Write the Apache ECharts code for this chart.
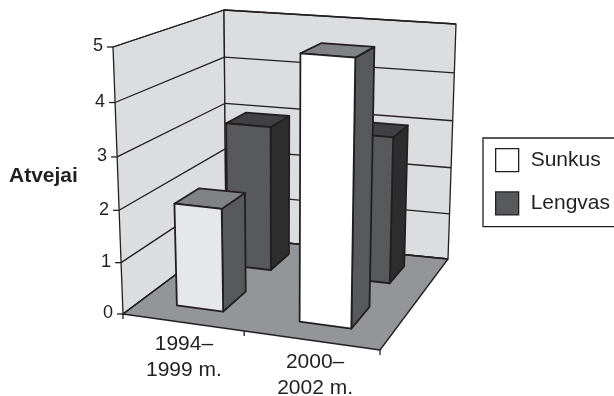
<!DOCTYPE html>
<html>
<head>
<meta charset="utf-8">
<style>html,body{margin:0;padding:0;background:#fff}#chart{width:614px;height:396px}</style>
<script src="https://cdn.jsdelivr.net/npm/echarts@6/dist/echarts.min.js"></script>
</head>
<body>
<div id="chart"></div>
<script>
// Chart values
const categories = ['1994–\n1999 m.', '2000–\n2002 m.'];
const sunkusValues = [2, 5];
const lengvasValues = [3, 3];
const valueTicks = [0, 1, 2, 3, 4, 5];

// Scene corners on screen: front-left, front-right, back-right, back-left
const floorCorners = [[123, 314], [380, 350], [448, 259], [226, 237]];
const ceilingCorners = [[113, 47], [386, 69], [456, 24], [224, 10]];
const heightBias = 1.05;   // foreshortening of the vertical scale
const barWidth = 0.39;     // share of a category band
const depthBands = { Sunkus: [0.15, 0.375], Lengvas: [0.645, 0.86] };
const acrossShift = { Sunkus: 0.005, Lengvas: 0.007 };

const INK = '#231f20';
const faces = {
  Sunkus: { front: ['#e6e7e8', '#ffffff'], side: '#58595b', top: '#808285' },
  Lengvas: { front: ['#58595b', '#58595b'], side: '#2d2d2e', top: '#414042' }
};
const FAMILY = '"Liberation Sans", Arial, sans-serif';

function squareToQuad(q) {
  const [[x0, y0], [x1, y1], [x2, y2], [x3, y3]] = q;
  const dx1 = x1 - x2, dx2 = x3 - x2, sx = x0 - x1 + x2 - x3;
  const dy1 = y1 - y2, dy2 = y3 - y2, sy = y0 - y1 + y2 - y3;
  const det = dx1 * dy2 - dx2 * dy1;
  const g = (sx * dy2 - dx2 * sy) / det, h = (dx1 * sy - sx * dy1) / det;
  const a = x1 - x0 + g * x1, b = x3 - x0 + h * x3;
  const d = y1 - y0 + g * y1, e = y3 - y0 + h * y3;
  return (u, v) => {
    const n = g * u + h * v + 1;
    return [(a * u + b * v + x0) / n, (d * u + e * v + y0) / n];
  };
}
const floorMap = squareToQuad(floorCorners);
const ceilingMap = squareToQuad(ceilingCorners);

// u: across the floor, v: into the depth, w: height share of the value axis
function project(u, v, w) {
  const p = floorMap(u, v), q = ceilingMap(u, v);
  const t = w / (w + (1 - w) * heightBias);
  return [p[0] + (q[0] - p[0]) * t, p[1] + (q[1] - p[1]) * t];
}

function poly(points, fill, width) {
  return {
    type: 'polygon',
    shape: { points },
    style: { fill, stroke: INK, lineWidth: width, lineJoin: 'round' }
  };
}
function line(a, b, width) {
  return {
    type: 'line',
    shape: { x1: a[0], y1: a[1], x2: b[0], y2: b[1] },
    style: { stroke: INK, lineWidth: width, fill: null }
  };
}
function label(p, text, align, size) {
  return {
    type: 'text',
    style: { x: p[0], y: p[1], text, fill: INK, font: size + 'px ' + FAMILY, align, verticalAlign: 'middle', lineHeight: 26 }
  };
}

// Reads a grid pixel back as a share of the plotting area
function shares(api, params, cat, value) {
  const r = params.coordSys, c = api.coord([cat, value]);
  return [(c[0] - r.x) / r.width, (r.y + r.height - c[1]) / r.height];
}

// Walls, floor, gridlines and value ticks
function renderFrame(params, api) {
  const value = api.value(0);
  const w = shares(api, params, 0, value)[1];
  const children = [];
  if (params.dataIndex === 0) {
    const wall = '#dcddde';
    children.push(poly([project(0, 0, 0), project(0, 1, 0), project(0, 1, 1), project(0, 0, 1)], wall, 1.3));
    children.push(poly([project(0, 1, 0), project(1, 1, 0), project(1, 1, 1), project(0, 1, 1)], wall, 1.3));
    children.push(poly([project(0, 0, 0), project(1, 0, 0), project(1, 1, 0), project(0, 1, 0)], '#939598', 1.3));
    [0, 0.5, 1].forEach(u => {
      const p = project(u, 0, 0);
      children.push(line(p, [p[0], p[1] + 5], 1.3));
    });
  }
  const a = project(0, 0, w), b = project(0, 1, w), c = project(1, 1, w);
  children.push(line(a, b, 1.3), line(b, c, 1.3));
  children.push(line([a[0] - 6, a[1]], a, 1.3));
  children.push(label([a[0] - 10, a[1] - 0.5], String(value), 'right', 18));
  return { type: 'group', children };
}

// Category captions under the floor's front edge
function renderCaption(params, api) {
  const cat = api.value(0);
  const u = shares(api, params, cat, 0)[0];
  const p = project(u, 0, 0);
  return label([p[0] + 0.5 + 6 * u, p[1] + 35], categories[cat], 'center', 21);
}

// One column as three faces: side, top, front
function renderBar(name) {
  return function (params, api) {
    const cat = api.value(0), value = api.value(1);
    const [uc, w] = shares(api, params, cat, value);
    const half = api.size([1, 0])[0] / params.coordSys.width * barWidth / 2;
    const u0 = uc - half + acrossShift[name], u1 = uc + half + acrossShift[name];
    const [v0, v1] = depthBands[name];
    const f = faces[name];
    return {
      type: 'group',
      children: [
        poly([project(u1, v0, 0), project(u1, v1, 0), project(u1, v1, w), project(u1, v0, w)], f.side, 1.8),
        poly([project(u0, v0, w), project(u1, v0, w), project(u1, v1, w), project(u0, v1, w)], f.top, 1.8),
        poly([project(u0, v0, 0), project(u1, v0, 0), project(u1, v0, w), project(u0, v0, w)], f.front[cat], 1.8)
      ]
    };
  };
}

const barSeries = (name, values, z) => ({
  type: 'custom',
  name,
  z,
  clip: false,
  renderItem: renderBar(name),
  encode: { x: 0, y: 1 },
  data: values.map((v, i) => [i, v]),
  itemStyle: { color: faces[name].front[1] }
});

const chart = echarts.init(document.getElementById('chart'), null, { renderer: 'canvas' });
chart.setOption({
  animation: false,
  backgroundColor: '#ffffff',
  title: {
    text: 'Atvejai', left: 4, top: 161,
    textStyle: { fontFamily: FAMILY, fontSize: 21, fontWeight: 'bold', color: INK }
  },
  legend: {
    left: 483, top: 138, orient: 'vertical',
    padding: [10, 40, 11, 12],
    itemWidth: 23, itemHeight: 23, itemGap: 19,
    borderColor: INK, borderWidth: 1.3,
    selectedMode: false,
    textStyle: { fontFamily: FAMILY, fontSize: 21, color: INK, padding: [0, 0, 0, 7] },
    data: [
      { name: 'Sunkus', icon: 'rect', itemStyle: { color: '#ffffff', borderColor: INK, borderWidth: 1.3 } },
      { name: 'Lengvas', icon: 'rect', itemStyle: { color: '#58595b', borderColor: INK, borderWidth: 1.3 } }
    ]
  },
  grid: { left: 100, right: 150, top: 40, bottom: 60 },
  xAxis: { type: 'category', data: categories, show: false },
  yAxis: { type: 'value', min: 0, max: 5, show: false },
  series: [
    { type: 'custom', name: 'frame', z: 1, clip: false, silent: true, renderItem: renderFrame, encode: { y: 0 }, data: valueTicks.map(v => [v]) },
    { type: 'custom', name: 'captions', z: 1, clip: false, silent: true, renderItem: renderCaption, encode: { x: 0 }, data: categories.map((c, i) => [i]) },
    barSeries('Lengvas', lengvasValues, 2),
    barSeries('Sunkus', sunkusValues, 3)
  ]
});
</script>
</body>
</html>
